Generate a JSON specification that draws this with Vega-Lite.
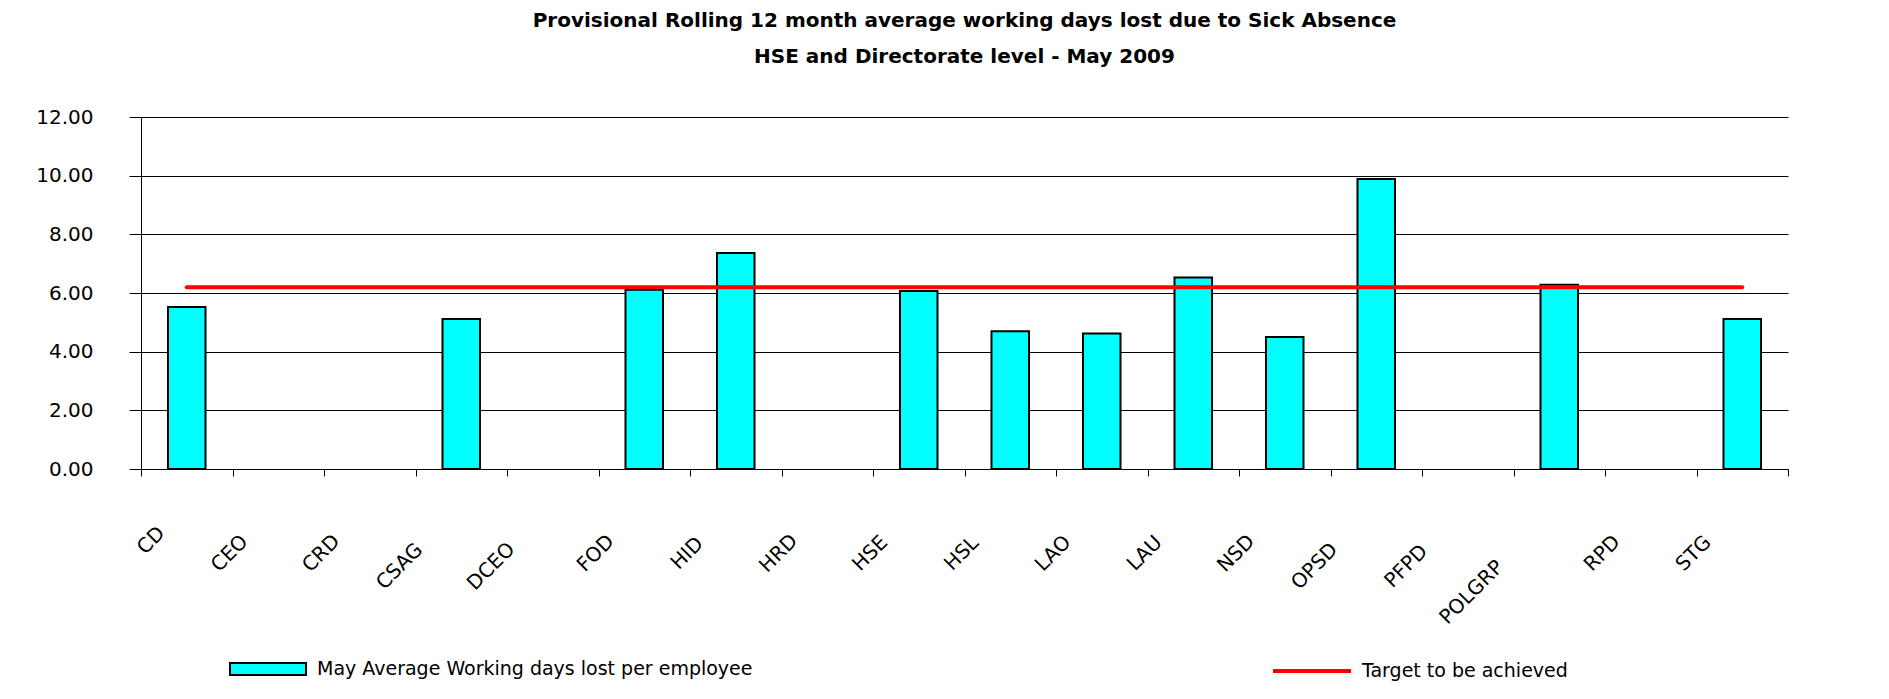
{
  "$schema": "https://vega.github.io/schema/vega-lite/v6.json",
  "width": 1647,
  "height": 352,
  "autosize": {"type": "none"},
  "padding": {"left": 141, "top": 117, "right": 101, "bottom": 230},
  "background": "white",
  "title": {
    "text": ["Provisional Rolling 12 month average working days lost due to Sick Absence", "HSE and Directorate level - May 2009"],
    "font": "DejaVu Sans",
    "fontSize": 20,
    "fontWeight": "bold",
    "lineHeight": 36,
    "anchor": "middle",
    "frame": "group",
    "offset": 40,
    "color": "black",
    "limit": 0
  },
  "data": {
    "values": [
      {"Directorate": "CD", "Days": 5.52, "Target": 6.2},
      {"Directorate": "CEO", "Days": null, "Target": 6.2},
      {"Directorate": "CRD", "Days": null, "Target": 6.2},
      {"Directorate": "CSAG", "Days": 5.11, "Target": 6.2},
      {"Directorate": "DCEO", "Days": null, "Target": 6.2},
      {"Directorate": "FOD", "Days": 6.11, "Target": 6.2},
      {"Directorate": "HID", "Days": 7.36, "Target": 6.2},
      {"Directorate": "HRD", "Days": null, "Target": 6.2},
      {"Directorate": "HSE", "Days": 6.07, "Target": 6.2},
      {"Directorate": "HSL", "Days": 4.70, "Target": 6.2},
      {"Directorate": "LAO", "Days": 4.62, "Target": 6.2},
      {"Directorate": "LAU", "Days": 6.53, "Target": 6.2},
      {"Directorate": "NSD", "Days": 4.50, "Target": 6.2},
      {"Directorate": "OPSD", "Days": 9.89, "Target": 6.2},
      {"Directorate": "PFPD", "Days": null, "Target": 6.2},
      {"Directorate": "POLGRP", "Days": 6.28, "Target": 6.2},
      {"Directorate": "RPD", "Days": null, "Target": 6.2},
      {"Directorate": "STG", "Days": 5.11, "Target": 6.2}
    ]
  },
  "encoding": {
    "x": {
      "field": "Directorate",
      "type": "nominal",
      "sort": null,
      "scale": {
        "domain": ["CD", "CEO", "CRD", "CSAG", "DCEO", "FOD", "HID", "HRD", "HSE", "HSL", "LAO", "LAU", "NSD", "OPSD", "PFPD", "POLGRP", "RPD", "STG"],
        "paddingInner": 0,
        "paddingOuter": 0
      },
      "axis": {
        "title": null,
        "grid": false,
        "domain": true,
        "domainColor": "black",
        "domainWidth": 1,
        "ticks": true,
        "tickBand": "extent",
        "tickSize": 7,
        "tickColor": "black",
        "labelAngle": -45,
        "labelAlign": "center",
        "labelBaseline": "middle",
        "labelFont": "DejaVu Sans",
        "labelFontSize": 20,
        "labelColor": "black",
        "labelLimit": 0,
        "labelOffset": {
          "condition": [
            {"test": "length(datum.label) == 2", "value": -36},
            {"test": "length(datum.label) == 3", "value": -49},
            {"test": "length(datum.label) == 4", "value": -62}
          ],
          "value": -88
        },
        "labelPadding": {
          "condition": [
            {"test": "length(datum.label) == 2", "value": 64},
            {"test": "length(datum.label) == 3", "value": 77},
            {"test": "length(datum.label) == 4", "value": 90}
          ],
          "value": 116
        }
      }
    }
  },
  "layer": [
    {
      "mark": {"type": "bar", "width": {"band": 0.41}, "stroke": "black", "strokeWidth": 2},
      "encoding": {
        "y": {
          "field": "Days",
          "type": "quantitative",
          "scale": {"domain": [0, 12]},
          "axis": {
            "title": null,
            "values": [0, 2, 4, 6, 8, 10, 12],
            "format": ".2f",
            "grid": true,
            "gridColor": "black",
            "gridWidth": 1,
            "gridOpacity": 1,
            "domain": true,
            "domainColor": "black",
            "tickSize": 12,
            "tickColor": "black",
            "labelFont": "DejaVu Sans",
            "labelFontSize": 20,
            "labelColor": "black",
            "labelPadding": 36
          }
        },
        "fill": {
          "datum": "May Average Working days lost per employee",
          "type": "nominal",
          "scale": {"range": ["#00FFFF"]},
          "legend": {
            "title": null,
            "orient": "none",
            "legendX": 88,
            "legendY": 513,
            "padding": 0,
            "symbolType": "M-1,-0.158H1V0.158H-1Z",
            "symbolSize": 5776,
            "symbolStrokeColor": "black",
            "symbolStrokeWidth": 2,
            "symbolOpacity": 1,
            "labelFont": "DejaVu Sans",
            "labelFontSize": 19,
            "labelColor": "black",
            "labelOffset": 10,
            "labelLimit": 0
          }
        }
      }
    },
    {
      "mark": {"type": "line", "strokeWidth": 4, "strokeCap": "round"},
      "encoding": {
        "y": {
          "field": "Target",
          "type": "quantitative",
          "axis": {
            "title": null,
            "values": [0, 2, 4, 6, 8, 10, 12],
            "format": ".2f",
            "grid": true,
            "gridColor": "black",
            "gridWidth": 1,
            "gridOpacity": 1,
            "domain": true,
            "domainColor": "black",
            "tickSize": 12,
            "tickColor": "black",
            "labelFont": "DejaVu Sans",
            "labelFontSize": 20,
            "labelColor": "black",
            "labelPadding": 36
          }
        },
        "stroke": {
          "datum": "Target to be achieved",
          "type": "nominal",
          "scale": {"range": ["#FF0000"]},
          "legend": {
            "title": null,
            "orient": "none",
            "legendX": 1130,
            "legendY": 513,
            "padding": 0,
            "symbolType": "stroke",
            "symbolSize": 6084,
            "symbolStrokeWidth": 4,
            "labelFont": "DejaVu Sans",
            "labelFontSize": 19,
            "labelColor": "black",
            "labelOffset": 9,
            "labelLimit": 0
          }
        }
      }
    }
  ],
  "config": {
    "view": {"stroke": null}
  }
}
